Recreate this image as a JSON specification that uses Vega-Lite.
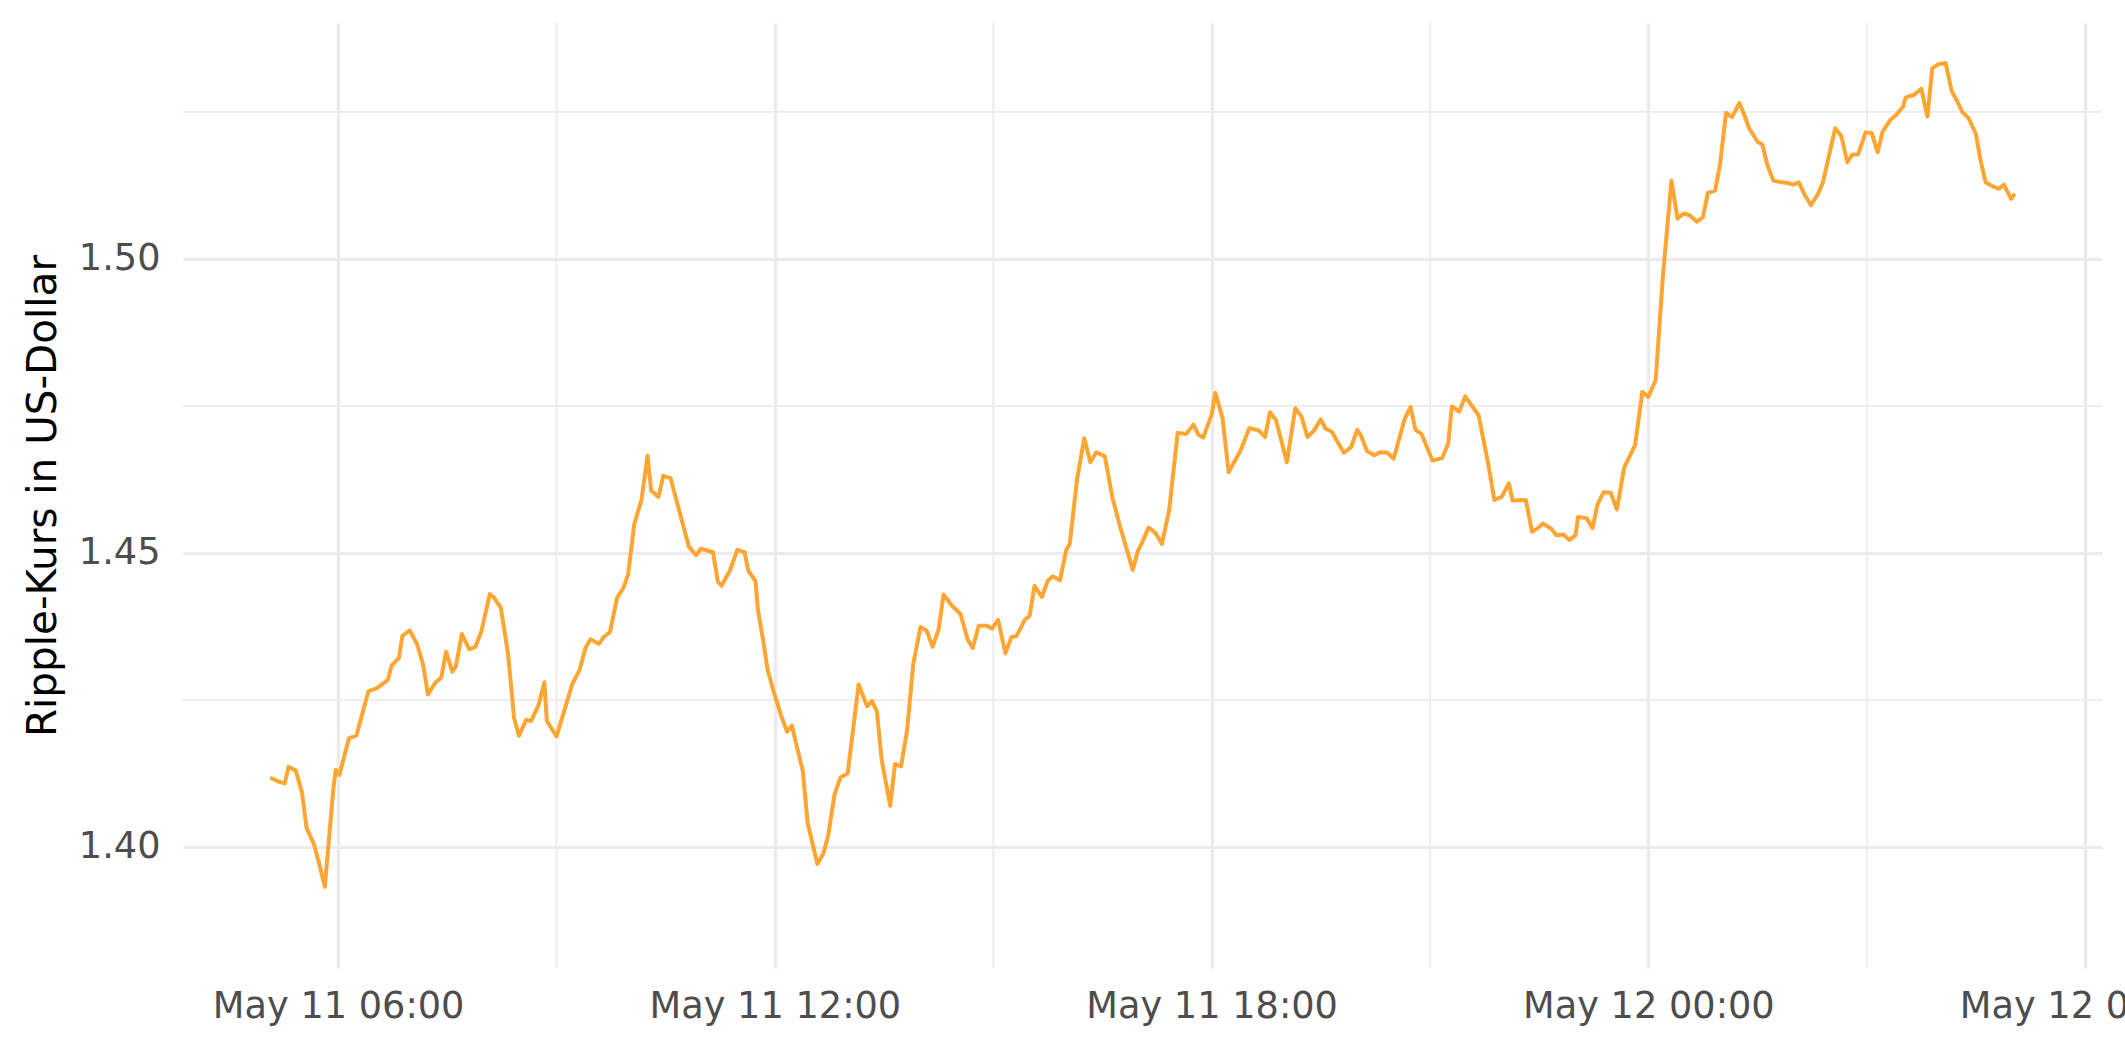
{
  "$schema": "https://vega.github.io/schema/vega-lite/v6.json",
  "width": 1919,
  "height": 945,
  "autosize": {"type": "none"},
  "padding": {"left": 183, "top": 23, "right": 23, "bottom": 94},
  "background": "white",
  "config": {
    "view": {"stroke": null},
    "font": "DejaVu Sans"
  },
  "datasets": {
    "minorx": [{"t": "2021-05-11T09:00"}, {"t": "2021-05-11T15:00"}, {"t": "2021-05-11T21:00"}, {"t": "2021-05-12T03:00"}],
    "minory": [{"v": 1.425}, {"v": 1.475}, {"v": 1.525}],
    "xrp": [
{"t":"2021-05-11T05:04","v":1.4118},{"t":"2021-05-11T05:11","v":1.4111},{"t":"2021-05-11T05:16","v":1.4108},{"t":"2021-05-11T05:19","v":1.4136},{"t":"2021-05-11T05:25","v":1.4130},{"t":"2021-05-11T05:30","v":1.4094},{"t":"2021-05-11T05:34","v":1.4032},{"t":"2021-05-11T05:40","v":1.4005},{"t":"2021-05-11T05:45","v":1.3966},{"t":"2021-05-11T05:49","v":1.3932},
{"t":"2021-05-11T05:56","v":1.4098},{"t":"2021-05-11T05:58","v":1.4131},{"t":"2021-05-11T06:01","v":1.4122},{"t":"2021-05-11T06:05","v":1.4154},{"t":"2021-05-11T06:09","v":1.4185},{"t":"2021-05-11T06:15","v":1.4189},{"t":"2021-05-11T06:20","v":1.4227},{"t":"2021-05-11T06:25","v":1.4265},{"t":"2021-05-11T06:32","v":1.4270},{"t":"2021-05-11T06:41","v":1.4284},
{"t":"2021-05-11T06:44","v":1.4308},{"t":"2021-05-11T06:50","v":1.4321},{"t":"2021-05-11T06:53","v":1.4359},{"t":"2021-05-11T06:59","v":1.4368},{"t":"2021-05-11T07:05","v":1.4345},{"t":"2021-05-11T07:10","v":1.4310},{"t":"2021-05-11T07:14","v":1.4259},{"t":"2021-05-11T07:20","v":1.4279},{"t":"2021-05-11T07:25","v":1.4288},{"t":"2021-05-11T07:29","v":1.4332},
{"t":"2021-05-11T07:34","v":1.4298},{"t":"2021-05-11T07:37","v":1.4307},{"t":"2021-05-11T07:42","v":1.4362},{"t":"2021-05-11T07:48","v":1.4336},{"t":"2021-05-11T07:53","v":1.4340},{"t":"2021-05-11T07:58","v":1.4366},{"t":"2021-05-11T08:05","v":1.4430},{"t":"2021-05-11T08:08","v":1.4425},{"t":"2021-05-11T08:14","v":1.4407},{"t":"2021-05-11T08:20","v":1.4329},
{"t":"2021-05-11T08:25","v":1.4219},{"t":"2021-05-11T08:29","v":1.4189},{"t":"2021-05-11T08:35","v":1.4216},{"t":"2021-05-11T08:39","v":1.4214},{"t":"2021-05-11T08:45","v":1.4240},{"t":"2021-05-11T08:50","v":1.4280},{"t":"2021-05-11T08:52","v":1.4214},{"t":"2021-05-11T09:00","v":1.4188},{"t":"2021-05-11T09:07","v":1.4236},{"t":"2021-05-11T09:13","v":1.4277},
{"t":"2021-05-11T09:19","v":1.4301},{"t":"2021-05-11T09:24","v":1.4339},{"t":"2021-05-11T09:28","v":1.4353},{"t":"2021-05-11T09:35","v":1.4345},{"t":"2021-05-11T09:39","v":1.4357},{"t":"2021-05-11T09:44","v":1.4365},{"t":"2021-05-11T09:50","v":1.4424},{"t":"2021-05-11T09:55","v":1.4440},{"t":"2021-05-11T09:59","v":1.4463},{"t":"2021-05-11T10:04","v":1.4548},
{"t":"2021-05-11T10:10","v":1.4590},{"t":"2021-05-11T10:15","v":1.4665},{"t":"2021-05-11T10:18","v":1.4606},{"t":"2021-05-11T10:24","v":1.4595},{"t":"2021-05-11T10:28","v":1.4631},{"t":"2021-05-11T10:34","v":1.4627},{"t":"2021-05-11T10:42","v":1.4565},{"t":"2021-05-11T10:49","v":1.4511},{"t":"2021-05-11T10:55","v":1.4496},{"t":"2021-05-11T10:59","v":1.4507},
{"t":"2021-05-11T11:09","v":1.4501},{"t":"2021-05-11T11:13","v":1.4451},{"t":"2021-05-11T11:16","v":1.4444},{"t":"2021-05-11T11:23","v":1.4470},{"t":"2021-05-11T11:29","v":1.4505},{"t":"2021-05-11T11:35","v":1.4501},{"t":"2021-05-11T11:38","v":1.4470},{"t":"2021-05-11T11:44","v":1.4452},{"t":"2021-05-11T11:46","v":1.4403},{"t":"2021-05-11T11:50","v":1.4355},
{"t":"2021-05-11T11:54","v":1.4301},{"t":"2021-05-11T11:59","v":1.4264},{"t":"2021-05-11T12:05","v":1.4224},{"t":"2021-05-11T12:10","v":1.4196},{"t":"2021-05-11T12:14","v":1.4206},{"t":"2021-05-11T12:18","v":1.4171},{"t":"2021-05-11T12:23","v":1.4129},{"t":"2021-05-11T12:27","v":1.4040},{"t":"2021-05-11T12:35","v":1.3971},{"t":"2021-05-11T12:40","v":1.3989},
{"t":"2021-05-11T12:44","v":1.4020},{"t":"2021-05-11T12:49","v":1.4088},{"t":"2021-05-11T12:54","v":1.4118},{"t":"2021-05-11T13:00","v":1.4125},{"t":"2021-05-11T13:09","v":1.4276},{"t":"2021-05-11T13:16","v":1.4239},{"t":"2021-05-11T13:20","v":1.4248},{"t":"2021-05-11T13:24","v":1.4231},{"t":"2021-05-11T13:28","v":1.4148},{"t":"2021-05-11T13:35","v":1.4070},
{"t":"2021-05-11T13:39","v":1.4141},{"t":"2021-05-11T13:44","v":1.4137},{"t":"2021-05-11T13:49","v":1.4199},{"t":"2021-05-11T13:54","v":1.4310},{"t":"2021-05-11T14:00","v":1.4374},{"t":"2021-05-11T14:05","v":1.4368},{"t":"2021-05-11T14:10","v":1.4340},{"t":"2021-05-11T14:15","v":1.4370},{"t":"2021-05-11T14:19","v":1.4429},{"t":"2021-05-11T14:26","v":1.4410},
{"t":"2021-05-11T14:33","v":1.4396},{"t":"2021-05-11T14:39","v":1.4352},{"t":"2021-05-11T14:43","v":1.4338},{"t":"2021-05-11T14:48","v":1.4376},{"t":"2021-05-11T14:55","v":1.4376},{"t":"2021-05-11T14:59","v":1.4371},{"t":"2021-05-11T15:04","v":1.4386},{"t":"2021-05-11T15:10","v":1.4329},{"t":"2021-05-11T15:15","v":1.4357},{"t":"2021-05-11T15:19","v":1.4358},
{"t":"2021-05-11T15:26","v":1.4386},{"t":"2021-05-11T15:30","v":1.4393},{"t":"2021-05-11T15:34","v":1.4444},{"t":"2021-05-11T15:40","v":1.4425},{"t":"2021-05-11T15:45","v":1.4453},{"t":"2021-05-11T15:49","v":1.4460},{"t":"2021-05-11T15:55","v":1.4453},{"t":"2021-05-11T16:00","v":1.4504},{"t":"2021-05-11T16:03","v":1.4515},{"t":"2021-05-11T16:09","v":1.4624},
{"t":"2021-05-11T16:15","v":1.4695},{"t":"2021-05-11T16:20","v":1.4654},{"t":"2021-05-11T16:25","v":1.4671},{"t":"2021-05-11T16:32","v":1.4664},{"t":"2021-05-11T16:38","v":1.4596},{"t":"2021-05-11T16:44","v":1.4548},{"t":"2021-05-11T16:55","v":1.4471},{"t":"2021-05-11T16:59","v":1.4502},{"t":"2021-05-11T17:03","v":1.4519},{"t":"2021-05-11T17:08","v":1.4543},
{"t":"2021-05-11T17:14","v":1.4533},{"t":"2021-05-11T17:19","v":1.4515},{"t":"2021-05-11T17:25","v":1.4573},{"t":"2021-05-11T17:32","v":1.4704},{"t":"2021-05-11T17:39","v":1.4702},{"t":"2021-05-11T17:45","v":1.4718},{"t":"2021-05-11T17:49","v":1.4701},{"t":"2021-05-11T17:53","v":1.4696},{"t":"2021-05-11T18:00","v":1.4735},{"t":"2021-05-11T18:03","v":1.4772},
{"t":"2021-05-11T18:09","v":1.4729},{"t":"2021-05-11T18:14","v":1.4637},{"t":"2021-05-11T18:24","v":1.4675},{"t":"2021-05-11T18:31","v":1.4712},{"t":"2021-05-11T18:39","v":1.4708},{"t":"2021-05-11T18:44","v":1.4697},{"t":"2021-05-11T18:48","v":1.4739},{"t":"2021-05-11T18:53","v":1.4726},{"t":"2021-05-11T19:02","v":1.4654},{"t":"2021-05-11T19:09","v":1.4746},
{"t":"2021-05-11T19:14","v":1.4732},{"t":"2021-05-11T19:19","v":1.4697},{"t":"2021-05-11T19:24","v":1.4707},{"t":"2021-05-11T19:30","v":1.4727},{"t":"2021-05-11T19:34","v":1.4711},{"t":"2021-05-11T19:39","v":1.4706},{"t":"2021-05-11T19:49","v":1.4670},{"t":"2021-05-11T19:55","v":1.4680},{"t":"2021-05-11T20:00","v":1.4709},{"t":"2021-05-11T20:03","v":1.4700},
{"t":"2021-05-11T20:08","v":1.4673},{"t":"2021-05-11T20:14","v":1.4666},{"t":"2021-05-11T20:19","v":1.4671},{"t":"2021-05-11T20:25","v":1.4670},{"t":"2021-05-11T20:30","v":1.4660},{"t":"2021-05-11T20:39","v":1.4727},{"t":"2021-05-11T20:44","v":1.4748},{"t":"2021-05-11T20:48","v":1.4709},{"t":"2021-05-11T20:53","v":1.4702},{"t":"2021-05-11T21:02","v":1.4657},
{"t":"2021-05-11T21:10","v":1.4661},{"t":"2021-05-11T21:15","v":1.4686},{"t":"2021-05-11T21:18","v":1.4749},{"t":"2021-05-11T21:24","v":1.4740},{"t":"2021-05-11T21:29","v":1.4766},{"t":"2021-05-11T21:40","v":1.4734},{"t":"2021-05-11T21:48","v":1.4651},{"t":"2021-05-11T21:53","v":1.4590},{"t":"2021-05-11T21:59","v":1.4595},{"t":"2021-05-11T22:05","v":1.4618},
{"t":"2021-05-11T22:08","v":1.4589},{"t":"2021-05-11T22:19","v":1.4590},{"t":"2021-05-11T22:24","v":1.4536},{"t":"2021-05-11T22:29","v":1.4542},{"t":"2021-05-11T22:33","v":1.4550},{"t":"2021-05-11T22:40","v":1.4541},{"t":"2021-05-11T22:44","v":1.4530},{"t":"2021-05-11T22:50","v":1.4531},{"t":"2021-05-11T22:55","v":1.4522},{"t":"2021-05-11T23:00","v":1.4530},
{"t":"2021-05-11T23:02","v":1.4561},{"t":"2021-05-11T23:09","v":1.4559},{"t":"2021-05-11T23:14","v":1.4542},{"t":"2021-05-11T23:18","v":1.4582},{"t":"2021-05-11T23:23","v":1.4603},{"t":"2021-05-11T23:29","v":1.4602},{"t":"2021-05-11T23:34","v":1.4574},{"t":"2021-05-11T23:40","v":1.4645},{"t":"2021-05-11T23:49","v":1.4683},{"t":"2021-05-11T23:55","v":1.4774},
{"t":"2021-05-12T00:00","v":1.4765},{"t":"2021-05-12T00:06","v":1.4794},{"t":"2021-05-12T00:12","v":1.4972},{"t":"2021-05-12T00:19","v":1.5133},{"t":"2021-05-12T00:24","v":1.5068},{"t":"2021-05-12T00:29","v":1.5077},{"t":"2021-05-12T00:34","v":1.5074},{"t":"2021-05-12T00:40","v":1.5063},{"t":"2021-05-12T00:45","v":1.5071},{"t":"2021-05-12T00:49","v":1.5112},
{"t":"2021-05-12T00:55","v":1.5116},{"t":"2021-05-12T00:59","v":1.5160},{"t":"2021-05-12T01:04","v":1.5248},{"t":"2021-05-12T01:09","v":1.5241},{"t":"2021-05-12T01:15","v":1.5265},{"t":"2021-05-12T01:19","v":1.5245},{"t":"2021-05-12T01:23","v":1.5222},{"t":"2021-05-12T01:30","v":1.5199},{"t":"2021-05-12T01:34","v":1.5194},{"t":"2021-05-12T01:38","v":1.5160},
{"t":"2021-05-12T01:43","v":1.5133},{"t":"2021-05-12T01:50","v":1.5130},{"t":"2021-05-12T01:55","v":1.5129},{"t":"2021-05-12T01:59","v":1.5126},{"t":"2021-05-12T02:04","v":1.5130},{"t":"2021-05-12T02:09","v":1.5108},{"t":"2021-05-12T02:14","v":1.5091},{"t":"2021-05-12T02:20","v":1.5111},{"t":"2021-05-12T02:24","v":1.5131},{"t":"2021-05-12T02:29","v":1.5177},
{"t":"2021-05-12T02:34","v":1.5222},{"t":"2021-05-12T02:39","v":1.5209},{"t":"2021-05-12T02:44","v":1.5164},{"t":"2021-05-12T02:48","v":1.5177},{"t":"2021-05-12T02:53","v":1.5178},{"t":"2021-05-12T02:59","v":1.5215},{"t":"2021-05-12T03:04","v":1.5214},{"t":"2021-05-12T03:09","v":1.5181},{"t":"2021-05-12T03:13","v":1.5216},{"t":"2021-05-12T03:19","v":1.5235},
{"t":"2021-05-12T03:24","v":1.5244},{"t":"2021-05-12T03:30","v":1.5259},{"t":"2021-05-12T03:32","v":1.5274},{"t":"2021-05-12T03:39","v":1.5279},{"t":"2021-05-12T03:45","v":1.5289},{"t":"2021-05-12T03:50","v":1.5242},{"t":"2021-05-12T03:54","v":1.5324},{"t":"2021-05-12T03:59","v":1.5331},{"t":"2021-05-12T04:05","v":1.5333},{"t":"2021-05-12T04:10","v":1.5285},
{"t":"2021-05-12T04:14","v":1.5270},{"t":"2021-05-12T04:19","v":1.5249},{"t":"2021-05-12T04:24","v":1.5239},{"t":"2021-05-12T04:30","v":1.5212},{"t":"2021-05-12T04:34","v":1.5165},{"t":"2021-05-12T04:38","v":1.5130},{"t":"2021-05-12T04:44","v":1.5123},{"t":"2021-05-12T04:49","v":1.5119},{"t":"2021-05-12T04:53","v":1.5126},{"t":"2021-05-12T04:59","v":1.5102},
{"t":"2021-05-12T05:02","v":1.5111}
    ]
  },
  "layer": [
    {
      "data": {"name": "minorx"},
      "mark": {"type": "rule", "color": "#EBEBEB", "strokeWidth": 1.7},
      "encoding": {
        "x": {"field": "t", "type": "temporal"}
      }
    },
    {
      "data": {"name": "minory"},
      "mark": {"type": "rule", "color": "#EBEBEB", "strokeWidth": 1.7},
      "encoding": {
        "y": {"field": "v", "type": "quantitative"}
      }
    },
    {
      "data": {"name": "xrp"},
      "mark": {"type": "line", "color": "#FFA533", "strokeWidth": 4, "strokeJoin": "round", "strokeCap": "butt"},
      "encoding": {
        "x": {
          "field": "t", "type": "temporal",
          "scale": {"domain": [{"year": 2021, "month": 5, "date": 11, "hours": 3, "minutes": 52, "seconds": 6}, {"year": 2021, "month": 5, "date": 12, "hours": 6, "minutes": 13, "seconds": 54}], "nice": false},
          "axis": {
            "title": null,
            "values": [{"year": 2021, "month": 5, "date": 11, "hours": 6}, {"year": 2021, "month": 5, "date": 11, "hours": 12}, {"year": 2021, "month": 5, "date": 11, "hours": 18}, {"year": 2021, "month": 5, "date": 12, "hours": 0}, {"year": 2021, "month": 5, "date": 12, "hours": 6}],
            "format": "%b %d %H:%M",
            "grid": true, "gridColor": "#EBEBEB", "gridWidth": 3.2,
            "domain": false, "ticks": false, "tickSize": 0,
            "labelFont": "DejaVu Sans", "labelFontSize": 36.7, "labelColor": "#4D4D4D",
            "labelPadding": 20, "labelFlush": false, "labelOverlap": false, "labelBound": false, "labelLimit": 0
          }
        },
        "y": {
          "field": "v", "type": "quantitative",
          "scale": {"domain": [1.3794, 1.5401], "nice": false, "zero": false},
          "axis": {
            "title": "Ripple-Kurs in US-Dollar",
            "titleFont": "DejaVu Sans", "titleFontSize": 40.5, "titleFontWeight": "normal", "titleColor": "#000000",
            "titlePadding": 14,
            "values": [1.40, 1.45, 1.50],
            "format": ".2f",
            "grid": true, "gridColor": "#EBEBEB", "gridWidth": 3.2,
            "domain": false, "ticks": false, "tickSize": 0,
            "labelFont": "DejaVu Sans", "labelFontSize": 36.7, "labelColor": "#4D4D4D",
            "labelPadding": 23, "labelLimit": 0
          }
        }
      }
    }
  ]
}
